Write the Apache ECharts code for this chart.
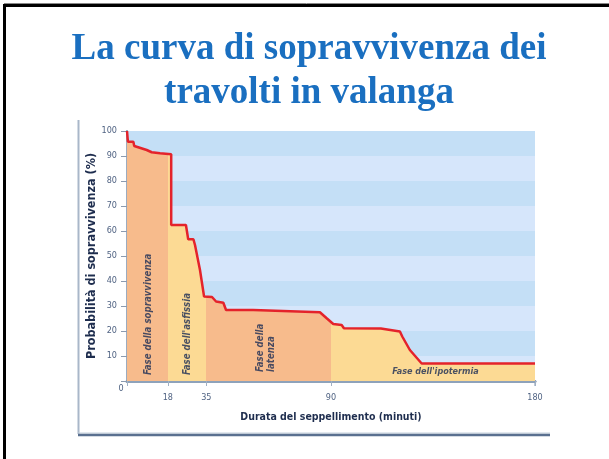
<!DOCTYPE html>
<html>
<head>
<meta charset="utf-8">
<script src="https://cdn.jsdelivr.net/npm/echarts@6/dist/echarts.min.js"></script>
<style>
html,body{margin:0;padding:0;background:#fff;}
#c{width:609px;height:459px;}
</style>
</head>
<body>
<div id="c"></div>
<script>
// ---- data ----
var titleLines = ['La curva di sopravvivenza dei', 'travolti in valanga'];
var xName = 'Durata del seppellimento (minuti)';
var yName = 'Probabilità di sopravvivenza (%)';
var xTicks = [0, 18, 35, 90, 180];
var yTicks = [0, 10, 20, 30, 40, 50, 60, 70, 80, 90, 100];
var curveMinutes = [0, 0.4, 2.8, 3.2, 8.7, 10.9, 14.6, 19.5, 19.5, 26, 27, 29.3, 30, 32.2, 34, 37.5, 39.3, 42.5, 43.7, 55.7, 85.1, 88.1, 91, 94.7, 95.7, 112, 120.4, 121.5, 124.8, 130, 180];
var curveSurvival = [100, 95.7, 95.7, 94, 92.4, 91.5, 91.1, 90.7, 62.4, 62.4, 56.7, 56.7, 54.4, 44.4, 33.8, 33.6, 31.8, 31.3, 28.4, 28.4, 27.5, 25.1, 22.8, 22.4, 21.1, 21, 19.8, 17.7, 12.4, 7, 7];
var phaseStarts = [0, 18, 35, 90];
var phaseEnds = [18, 35, 90, 180];
var phaseNames = ['Fase della sopravvivenza', "Fase dell'asfissia", 'Fase della\nlatenza', "Fase dell'ipotermia"];
var phaseLabelX = [9.3, 26.9, 61.3, 117];
var phaseLabelY = [2.4, 2.4, 3.6, 3.6];
var phaseLabelRotate = [90, 90, 90, 0];

// ---- build ----
var curve = curveMinutes.map(function (m, i) { return [m, curveSurvival[i]]; });
var ORANGE = '#f7bb8c', YELLOW = '#fcda94';
var phaseColors = [ORANGE, YELLOW, ORANGE, YELLOW];
var pieces = phaseStarts.map(function (s, i) {
  var p = { gte: s, color: phaseColors[i] };
  if (i < phaseStarts.length - 1) p.lt = phaseEnds[i]; else p.lte = phaseEnds[i];
  return p;
});
var narrow = "'Liberation Sans Narrow','Arial Narrow','DejaVu Sans Condensed',sans-serif";
var labelData = phaseNames.map(function (n, i) {
  return { value: [phaseLabelX[i], phaseLabelY[i]], name: n,
    label: { rotate: phaseLabelRotate[i], fontSize: phaseLabelRotate[i] ? 9.6 : 9 } };
});

var chart = echarts.init(document.getElementById('c'), null, { renderer: 'canvas' });
chart.setOption({
  animation: false,
  backgroundColor: '#ffffff',
  graphic: [
    { type: 'rect', shape: { x: 4.5, y: 5.5, width: 700, height: 700 }, style: { fill: 'none', stroke: '#000', lineWidth: 3 }, silent: true },
    { type: 'line', shape: { x1: 4, y1: 3.5, x2: 609, y2: 3.5 }, style: { stroke: '#888', lineWidth: 1 }, silent: true },
    { type: 'line', shape: { x1: 78.5, y1: 120, x2: 78.5, y2: 434 }, style: { stroke: '#a9b7c9', lineWidth: 2 }, silent: true },
    { type: 'line', shape: { x1: 78, y1: 433, x2: 550, y2: 433 }, style: { stroke: '#c5d0dc', lineWidth: 1 }, silent: true },
    { type: 'line', shape: { x1: 78, y1: 435, x2: 550, y2: 435 }, style: { stroke: '#5a7090', lineWidth: 2.5 }, silent: true },
    { type: 'line', shape: { x1: 535, y1: 381, x2: 535, y2: 386 }, style: { stroke: '#a8b6c8', lineWidth: 1.5 }, silent: true },
    { type: 'text', x: 309, y: 27, silent: true,
      style: { text: titleLines.join('\n'), align: 'center', verticalAlign: 'top',
        font: "bold 37px 'Liberation Serif','Times New Roman',serif", lineHeight: 44, fill: '#1a6fc0' } }
  ],
  grid: { left: 127, right: 74, top: 131, bottom: 78, containLabel: false },
  visualMap: {
    show: false, type: 'piecewise', dimension: 0, seriesIndex: 0, pieces: pieces
  },
  xAxis: [{
    type: 'value', min: 0, max: 180, position: 'bottom',
    name: xName, nameLocation: 'middle', nameGap: 31, nameMoveOverlap: false,
    nameTextStyle: { fontFamily: narrow, fontWeight: 'bold', fontSize: 10.5, color: '#1e2d4e' },
    axisLine: { show: true, lineStyle: { color: '#5f718a', width: 2.5 } },
    axisTick: { show: true, customValues: xTicks, length: 5, lineStyle: { color: '#a0b0c4', width: 1 } },
    axisLabel: {
      customValues: xTicks, margin: 3,
      fontFamily: narrow, fontSize: 9, color: '#4f6282',
      formatter: function (v) { return v === 0 ? '{z|0}' : '{n|' + v + '}'; },
      rich: {
        z: { fontFamily: narrow, fontSize: 9, color: '#4f6282', padding: [0, 12, 0, 0] },
        n: { fontFamily: narrow, fontSize: 9, color: '#4f6282', padding: [9, 0, 0, 0] }
      }
    },
    splitLine: { show: false }
  }, {
    type: 'value', min: 0, max: 180, position: 'top',
    axisLine: { show: true, lineStyle: { color: '#8ea2ba', width: 3 } },
    axisTick: { show: false }, axisLabel: { show: false }, splitLine: { show: false }
  }],
  yAxis: [{
    type: 'value', min: 0, max: 100, interval: 10,
    name: yName, nameLocation: 'middle', nameGap: 29, nameMoveOverlap: false,
    nameTextStyle: { fontFamily: narrow, fontWeight: 'bold', fontSize: 12.5, color: '#1e2d4e' },
    axisLine: { show: true, lineStyle: { color: '#7a8ca4', width: 2 } },
    axisTick: { show: true, length: 6, lineStyle: { color: '#8a9ab0' } },
    axisLabel: {
      margin: 10, fontFamily: narrow, fontSize: 9, color: '#4f6282',
      formatter: function (v) { return v === 0 ? '' : String(v); }
    },
    splitLine: { show: false },
    splitArea: { show: true, areaStyle: { color: ['#d6e6fb', '#c4dff6'] } }
  }, {
    type: 'value', min: 0, max: 100, position: 'right',
    axisLine: { show: true, lineStyle: { color: '#a8b6c8', width: 1.5 } },
    axisTick: { show: false }, axisLabel: { show: false }, splitLine: { show: false }
  }],
  series: [{
    name: 'fasi', type: 'line', data: curve, symbol: 'none',
    lineStyle: { width: 0 },
    areaStyle: { opacity: 1 },
    z: 2
  }, {
    name: 'curva', type: 'line', data: curve, symbol: 'none',
    lineStyle: { color: '#e4232b', width: 2.5 },
    itemStyle: { color: '#e4232b' },
    z: 4
  }, {
    name: 'etichette', type: 'scatter', data: labelData, symbolSize: 0,
    label: {
      show: true, position: [0, 0], align: 'left', verticalAlign: 'middle',
      formatter: function (p) { return p.name; },
      fontFamily: narrow, fontStyle: 'italic', fontWeight: 'bold', fontSize: 9, lineHeight: 11, color: '#1c2d55'
    },
    z: 5, silent: true
  }]
});
</script>
</body>
</html>
